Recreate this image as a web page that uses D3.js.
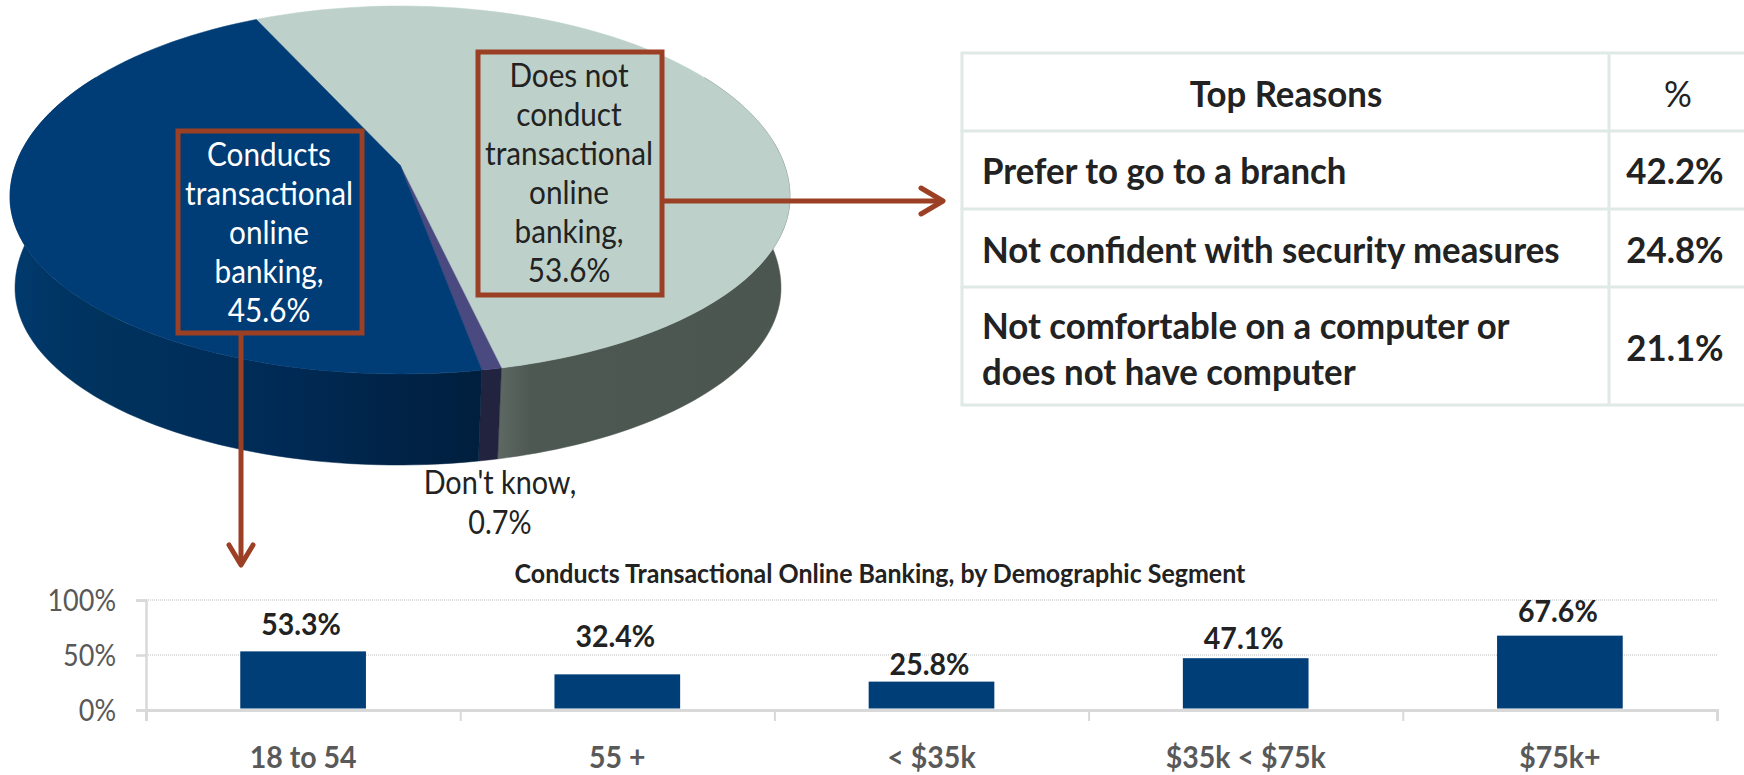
<!DOCTYPE html>
<html>
<head>
<meta charset="utf-8">
<script src="https://cdn.jsdelivr.net/npm/d3@7"></script>
<style>
  html, body { margin: 0; padding: 0; background: #fff; overflow: hidden; }
  svg { display: block; }
  text { font-family: Lato, "Open Sans", sans-serif; }
</style>
</head>
<body>
<svg class="banking" width="1744" height="775"></svg>
<script>
// pie data
const pieNames = ['Does not conduct', "Don't know", 'Conducts']
const pieValues = [53.6, 0.7, 45.6]
const pieLabelLines = [
  ['Does not', 'conduct', 'transactional', 'online', 'banking,', '53.6%'],
  ["Don't know,", '0.7%'],
  ['Conducts', 'transactional', 'online', 'banking,', '45.6%']
]

// table data
const tableHeader = ['Top Reasons', '%']
const tableReasons = [
  ['Prefer to go to a branch'],
  ['Not confident with security measures'],
  ['Not comfortable on a computer or', 'does not have computer']
]
const tablePercents = ['42.2%', '24.8%', '21.1%']

// bar data
const barTitle = 'Conducts Transactional Online Banking, by Demographic Segment'
const barCategories = ['18 to 54', '55 +', '< $35k', '$35k < $75k', '$75k+']
const barValues = [53.3, 32.4, 25.8, 47.1, 67.6]
const barTicks = [0, 50, 100]

const rust = '#9c4025'
const ink = '#222222'
const svg = d3.select('svg.banking')

// Lato runs wider than the original font, squeeze it horizontally
function squeeze(sel, factor) {
  sel.each(function () {
    const len = this.getComputedTextLength()
    d3.select(this).attr('textLength', len * factor).attr('lengthAdjust', 'spacingAndGlyphs')
  })
}

// ---- pie ----
const toRad = Math.PI / 180
const apexX = 400
const apexY = 165

// the disc is egg shaped in the original, two half ellipses meeting at its widest row
const topFace = { cx: 400, cy: 197, rx: 390, up: 191, down: 177 }
const lowFace = { cx: 398, cy: 288, rx: 383, up: 191, down: 177 }

function project(angle, face) {
  // slight perspective pull on the rim position
  const a = angle - 10 * toRad * Math.sin(angle)
  const u = Math.sin(a)
  const v = -Math.cos(a)
  return [face.cx + face.rx * u, face.cy + (v > 0 ? face.down : face.up) * v]
}

function samples(a0, a1) {
  return d3.range(0, 81).map(i => a0 + (a1 - a0) * i / 80)
}

const pieLayout = d3.pie()
  .value(d => d)
  .sort(null)
  .startAngle(-26 * toRad)
  .endAngle(334 * toRad)
const slices = pieLayout(pieValues)

const defs = svg.append('defs')
function sideGradient(id, x1, x2, stops) {
  const g = defs.append('linearGradient')
    .attr('id', id)
    .attr('gradientUnits', 'userSpaceOnUse')
    .attr('x1', x1).attr('x2', x2).attr('y1', 0).attr('y2', 0)
  stops.forEach(s => g.append('stop').attr('offset', s[0]).attr('stop-color', s[1]))
}
sideGradient('sideGray', 497, 790, [[0, '#5f6964'], [0.12, '#4e5852'], [1, '#4c5650']])
sideGradient('sideBlue', 10, 480, [[0, '#003a6e'], [0.15, '#00335f'], [0.55, '#002b57'], [0.8, '#002448'], [1, '#001f3e']])

const topColors = ['#bdd1ca', '#4a4a80', '#003c75']
const sideColors = ['url(#sideGray)', '#22233f', 'url(#sideBlue)']
const pathLine = d3.line()

// side walls, only the near half shows
const pieG = svg.append('g')
slices.forEach((s, i) => {
  const a0 = Math.max(s.startAngle, 60 * toRad)
  const a1 = Math.min(s.endAngle, 300 * toRad)
  if (a1 <= a0) return
  const ang = samples(a0, a1)
  const pts = ang.map(a => project(a, topFace)).concat(ang.slice().reverse().map(a => project(a, lowFace)))
  pieG.append('path')
    .attr('d', pathLine(pts) + 'Z')
    .attr('fill', sideColors[i])
    .attr('stroke', sideColors[i])
    .attr('stroke-width', 0.5)
})

// top face
slices.forEach((s, i) => {
  const pts = [[apexX, apexY]].concat(samples(s.startAngle, s.endAngle).map(a => project(a, topFace)))
  pieG.append('path')
    .attr('d', pathLine(pts) + 'Z')
    .attr('fill', topColors[i])
    .attr('stroke', topColors[i])
    .attr('stroke-width', 0.5)
})

// label boxes and connectors
function box(x, y, w, h) {
  svg.append('rect')
    .attr('x', x).attr('y', y).attr('width', w).attr('height', h)
    .attr('fill', 'none').attr('stroke', rust).attr('stroke-width', 5)
}
function wire(points) {
  svg.append('path')
    .attr('d', pathLine(points))
    .attr('fill', 'none').attr('stroke', rust).attr('stroke-width', 5)
    .attr('stroke-linejoin', 'round').attr('stroke-linecap', 'round')
}

box(478, 52, 184, 243)
box(178, 131, 184, 202)

wire([[663, 201], [942, 201]])
wire([[921, 188], [943, 201], [921, 214]])
wire([[241, 334], [241, 563]])
wire([[229, 545], [241, 565], [253, 545]])

function labelLines(lines, cx, firstBase, step, fill, size, factor) {
  svg.append('g').selectAll('text')
    .data(lines)
    .enter()
    .append('text')
    .attr('x', cx)
    .attr('y', (d, i) => firstBase + i * step)
    .attr('text-anchor', 'middle')
    .attr('font-size', size)
    .attr('fill', fill)
    .text(d => d)
    .call(squeeze, factor)
}
labelLines(pieLabelLines[0], 569, 87, 39, ink, 33, 0.9)
labelLines(pieLabelLines[2], 269, 166, 39, '#ffffff', 33, 0.9)
labelLines(pieLabelLines[1], 500, 494, 40, ink, 32, 0.9)

// ---- table ----
const colX = [962, 1609, 1744]
const rowY = [53, 131, 209, 287, 405]
const tableG = svg.append('g')
rowY.forEach(y => {
  tableG.append('line')
    .attr('x1', colX[0] - 1.5).attr('x2', colX[2]).attr('y1', y).attr('y2', y)
    .attr('stroke', '#dfe9e5').attr('stroke-width', 3)
})
colX.slice(0, 2).forEach(x => {
  tableG.append('line')
    .attr('x1', x).attr('x2', x).attr('y1', rowY[0]).attr('y2', rowY[4])
    .attr('stroke', '#dfe9e5').attr('stroke-width', 3)
})

function cell(str, x, y, anchor, weight) {
  tableG.append('text')
    .attr('x', x).attr('y', y)
    .attr('text-anchor', anchor)
    .attr('font-size', 37)
    .attr('font-weight', weight)
    .attr('fill', ink)
    .text(str)
    .call(squeeze, 0.94)
}
cell(tableHeader[0], 1286, 107, 'middle', 700)
cell(tableHeader[1], 1678, 107, 'middle', 400)

const reasonBases = [[184], [263], [339, 385]]
const percentBases = [184, 263, 361]
tableReasons.forEach((lines, r) => {
  lines.forEach((line, j) => cell(line, 982, reasonBases[r][j], 'start', 700))
  cell(tablePercents[r], 1675, percentBases[r], 'middle', 700)
})

// ---- bars ----
const chartLeft = 146
const chartRight = 1717
const chartTop = 600
const chartBottom = 710

const x = d3.scaleBand()
  .domain(barCategories)
  .range([chartLeft, chartRight])
  .paddingInner(0.6)
  .paddingOuter(0.3)
const y = d3.scaleLinear()
  .domain([0, 100])
  .range([chartBottom, chartTop])

const barG = svg.append('g')

// grid lines
barG.selectAll('line.grid')
  .data(barTicks.slice(1))
  .enter()
  .append('line')
  .attr('class', 'grid')
  .attr('x1', chartLeft).attr('x2', chartRight)
  .attr('y1', d => y(d)).attr('y2', d => y(d))
  .attr('stroke', '#d4d4d4').attr('stroke-width', 1.5).attr('stroke-dasharray', '1 1')

// y axis
const yAxis = barG.append('g')
  .attr('transform', `translate(${chartLeft}, 0)`)
  .call(d3.axisLeft(y).tickValues(barTicks).tickFormat(d => d + '%').tickSize(10).tickPadding(20))
yAxis.selectAll('path, line').attr('stroke', '#d9d9d9').attr('stroke-width', 2.5)
yAxis.selectAll('text')
  .attr('font-size', 31)
  .attr('fill', '#595959')
  .attr('font-family', 'Lato')
  .attr('dy', '0.33em')
  .call(squeeze, 0.87)

// x axis, ticks sit on the band edges so it is drawn from a second scale
const edges = d3.scalePoint()
  .domain(d3.range(barCategories.length + 1))
  .range([chartLeft, chartRight])
const xAxis = barG.append('g')
  .attr('transform', `translate(0, ${chartBottom})`)
  .call(d3.axisBottom(edges).tickSize(11).tickFormat(''))
xAxis.selectAll('path').attr('stroke', '#d9d9d9').attr('stroke-width', 3)
xAxis.selectAll('line').attr('stroke', '#d9d9d9').attr('stroke-width', 2)

// fill rects
barG.selectAll('rect.bar')
  .data(barValues)
  .enter()
  .append('rect')
  .attr('class', 'bar')
  .attr('x', (d, i) => x(barCategories[i]))
  .attr('y', d => y(d))
  .attr('width', x.bandwidth())
  .attr('height', d => chartBottom - 1.5 - y(d))
  .attr('fill', '#003e78')

// value labels, gaps above the bars differ in the original
const labelGaps = [16, 27, 7, 9, 14]
barG.selectAll('text.value')
  .data(barValues)
  .enter()
  .append('text')
  .attr('class', 'value')
  .attr('x', (d, i) => x(barCategories[i]) + x.bandwidth() / 2 - 2)
  .attr('y', (d, i) => y(d) - labelGaps[i])
  .attr('text-anchor', 'middle')
  .attr('font-size', 31)
  .attr('font-weight', 700)
  .attr('fill', ink)
  .text(d => d.toFixed(1) + '%')
  .call(squeeze, 0.92)

// category labels
barG.selectAll('text.cat')
  .data(barCategories)
  .enter()
  .append('text')
  .attr('class', 'cat')
  .attr('x', d => x(d) + x.bandwidth() / 2)
  .attr('y', 768)
  .attr('text-anchor', 'middle')
  .attr('font-size', 30)
  .attr('font-weight', 700)
  .attr('fill', '#595959')
  .text(d => d)
  .call(squeeze, 0.95)

// chart title
svg.append('text')
  .attr('x', 880)
  .attr('y', 583)
  .attr('text-anchor', 'middle')
  .attr('font-size', 26)
  .attr('font-weight', 700)
  .attr('fill', ink)
  .text(barTitle)
  .call(squeeze, 0.96)
</script>
</body>
</html>
